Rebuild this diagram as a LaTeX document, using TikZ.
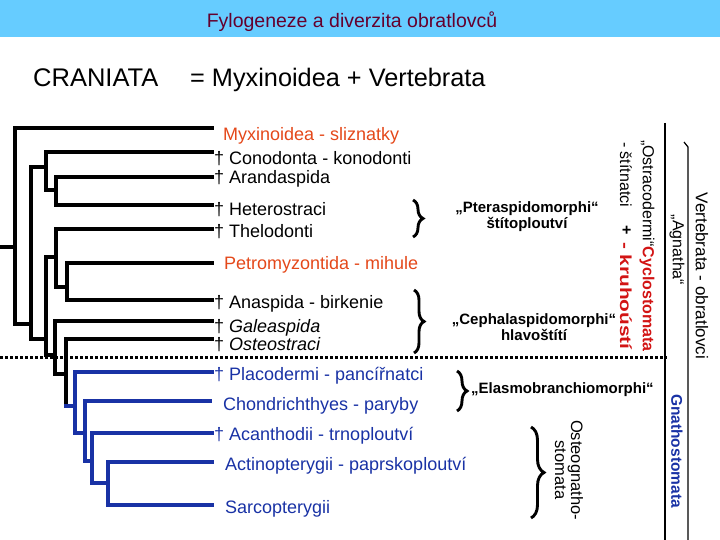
\documentclass[tikz,border=0pt]{standalone}
\usepackage{fontspec}
\setmainfont{Liberation Sans}
\usepackage{graphicx}
\usetikzlibrary{decorations.pathreplacing}
\definecolor{barblue}{RGB}{102,204,255}
\definecolor{titlered}{RGB}{100,0,45}
\definecolor{orng}{RGB}{228,72,26}
\definecolor{tblue}{RGB}{25,50,165}
\definecolor{cred}{RGB}{210,20,20}
\begin{document}
\begin{tikzpicture}[x=1pt,y=-1pt,
  lbl/.style={anchor=base west, inner sep=0pt, font=\fontsize{18}{20}\selectfont},
  branch/.style={line width=3.3pt, line cap=rect},
  brc/.style={decorate, decoration={brace, amplitude=#1}, line width=2.9pt},
  vtx/.style={rotate=-90, inner sep=0pt},
  grp/.style={inner sep=0pt, align=center, font=\bfseries\fontsize{15}{16}\selectfont},
  vline/.style={line width=1.2pt}]
\useasboundingbox (0,0) rectangle (720,540);
% title bar
\fill[barblue] (0,0) rectangle (720,37);
\node[anchor=base, inner sep=0pt, font=\fontsize{19.5}{22}\selectfont, text=titlered] (title) at (352,28) {Fylogeneze a diverzita obratlovců};
\node[anchor=base west, inner sep=0pt, font=\fontsize{25.5}{28}\selectfont] (cran) at (33,87) {CRANIATA};
\node[anchor=base west, inner sep=0pt, font=\fontsize{25.3}{28}\selectfont] (eq) at (190,87) {= Myxinoidea + Vertebrata};
% tree coordinates
\coordinate (rs) at (0,247);
\coordinate (r) at (15,247);
\coordinate (n1) at (31,324);
\coordinate (n2) at (46,167);
\coordinate (n3) at (56,190);
\coordinate (n4) at (46,339);
\coordinate (n5) at (56,257);
\coordinate (n6) at (67,287);
\coordinate (n7) at (55,355);
\coordinate (n8) at (66,374);
\coordinate (n9) at (75,406);
\coordinate (n10) at (85,433);
\coordinate (n11) at (92,461);
\coordinate (n12) at (108,483);
\coordinate (e1) at (212,128);
\coordinate (e2) at (212,152);
\coordinate (e3) at (212,177);
\coordinate (e4) at (212,205);
\coordinate (e5) at (212,229);
\coordinate (e6) at (212,263);
\coordinate (e7) at (212,300);
\coordinate (e8) at (212,321);
\coordinate (e9) at (212,339);
\coordinate (e10) at (212,372);
\coordinate (e11) at (210,401);
\coordinate (e12) at (212,433);
\coordinate (e13) at (212,462);
\coordinate (e14) at (212,505);
% black branches
\draw[branch] (rs) -- (r);
\draw[branch] (r) |- (e1);
\draw[branch] (r) |- (n1);
\draw[branch] (n1) |- (n2);
\draw[branch] (n2) |- (e2);
\draw[branch] (n2) |- (n3);
\draw[branch] (n3) |- (e3);
\draw[branch] (n3) |- (e4);
\draw[branch] (n1) |- (n4);
\draw[branch] (n4) |- (n5);
\draw[branch] (n5) |- (e5);
\draw[branch] (n5) |- (n6);
\draw[branch] (n6) |- (e6);
\draw[branch] (n6) |- (e7);
\draw[branch] (n4) |- (n7);
\draw[branch] (n7) |- (e8);
\draw[branch] (n7) |- (n8);
\draw[branch] (n8) |- (e9);
\draw[branch] (n8) -- (n8 |- n9);
% blue branches
\draw[branch, tblue] (n8 |- n9) -- (n9);
\draw[branch, tblue] (n9) |- (e10);
\draw[branch, tblue] (n9) |- (n10);
\draw[branch, tblue] (n10) |- (e11);
\draw[branch, tblue] (n10) |- (n11);
\draw[branch, tblue] (n11) |- (e12);
\draw[branch, tblue] (n11) |- (n12);
\draw[branch, tblue] (n12) |- (e13);
\draw[branch, tblue] (n12) |- (e14);
% dotted separator
\coordinate (d1) at (0,357);
\coordinate (d2) at (667,357);
\draw[line width=3pt, dash pattern=on 3pt off 2pt] (d1) -- (d2);
% leaf labels
\node[lbl, text=orng] (t1) at (223,141) {Myxinoidea - sliznatky};
\node[lbl] (t2) at (214,165) {† Conodonta - konodonti};
\node[lbl] (t3) at (214,184) {† Arandaspida};
\node[lbl] (t4) at (214,215) {† Heterostraci};
\node[lbl] (t5) at (214,237) {† Thelodonti};
\node[lbl, text=orng] (t6) at (224,269) {Petromyzontida - mihule};
\node[lbl] (t7) at (214,308) {† Anaspida - birkenie};
\node[lbl] (t8) at (214,332) {† \textit{Galeaspida}};
\node[lbl] (t9) at (214,350) {† \textit{Osteostraci}};
\node[lbl, text=tblue] (t10) at (214,380) {† Placodermi - pancířnatci};
\node[lbl, text=tblue] (t11) at (223,410) {Chondrichthyes - paryby};
\node[lbl, text=tblue] (t12) at (214,440) {† Acanthodii - trnoploutví};
\node[lbl, text=tblue] (t13) at (225,470) {Actinopterygii - paprskoploutví};
\node[lbl, text=tblue] (t14) at (225,513) {Sarcopterygii};
% braces
\coordinate (b1t) at (413,200); \coordinate (b1b) at (413,237);
\coordinate (b2t) at (414,290); \coordinate (b2b) at (414,353);
\coordinate (b3t) at (457,371); \coordinate (b3b) at (457,411);
\coordinate (b4t) at (531,427); \coordinate (b4b) at (531,518);
\draw[brc=10pt] (b1t) -- (b1b);
\draw[brc=10pt] (b2t) -- (b2b);
\draw[brc=10pt] (b3t) -- (b3b);
\draw[brc=13pt] (b4t) -- (b4b);
% group labels
\node[grp] (pter) at (527,217) {„Pteraspidomorphi“\\štítoploutví};
\node[grp] (ceph) at (534,327) {„Cephalaspidomorphi“\\hlavoštítí};
\node[grp, anchor=west] (elas) at (471,390) {„Elasmobranchiomorphi“};
% right vertical lines
\coordinate (v1t) at (665,123); \coordinate (v1b) at (665,540);
\coordinate (v2a) at (684,142); \coordinate (v2t) at (688,147); \coordinate (v2b) at (688,540);
\draw[vline] (v1t) -- (v1b);
\draw[vline] (v2a) -- (v2t) -- (v2b);
% vertical texts
\node[vtx, anchor=west, font=\fontsize{16}{18}\selectfont] (ostra) at (647,140) {„Ostracodermi“\textcolor{cred}{\bfseries Cyclostomata}};
\node[vtx, anchor=west, font=\fontsize{16}{18}\selectfont] (stit) at (626,142) {- štítnatci};
\node[vtx, font=\bfseries\fontsize{16}{18}\selectfont] (plus) at (626,230) {+};
\node[vtx, anchor=west, font=\bfseries\fontsize{16}{18}\selectfont, text=cred] (kruh) at (626,242) {\scalebox{1.3}[1]{- kruhoústí}};
\node[vtx, font=\fontsize{16}{18}\selectfont] (agn) at (677,250) {„Agnatha“};
\node[vtx, font=\fontsize{17}{19}\selectfont] (vert) at (702,276) {Vertebrata - obratlovci};
\node[vtx, font=\bfseries\fontsize{15.5}{18}\selectfont, text=tblue] (gnat) at (677,451) {Gnathostomata};
\node[vtx, align=center, font=\fontsize{16.5}{16}\selectfont] (osteo) at (569,470) {Osteognatho-\\stomata};
\end{tikzpicture}
\end{document}
